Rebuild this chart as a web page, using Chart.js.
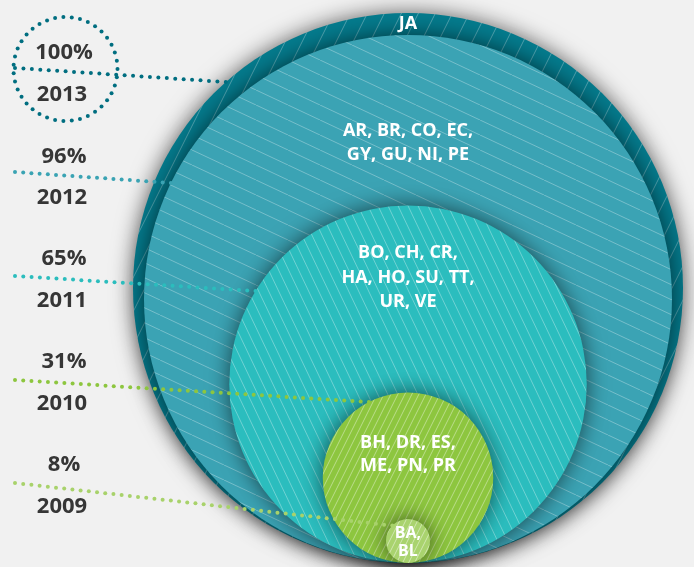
<!DOCTYPE html>
<html>
<head>
<meta charset="utf-8">
<script src="https://cdn.jsdelivr.net/npm/chart.js@4"></script>
<style>
html, body { margin: 0; padding: 0; background: #f1f1f1; }
#wrap { width: 694px; height: 567px; position: relative; }
</style>
</head>
<body>
<div id="wrap"><canvas id="circleChart"></canvas></div>
<script>
const years = ["2013", "2012", "2011", "2010", "2009"];
const coverage = [100, 96, 65, 31, 8];
const countries = [
  ["JA"],
  ["AR, BR, CO, EC,", "GY, GU, NI, PE"],
  ["BO, CH, CR,", "HA, HO, SU, TT,", "UR, VE"],
  ["BH, DR, ES,", "ME, PN, PR"],
  ["BA,", "BL"]
];

// look
const fills = ["#047b8d", "#3ba3b4", "#2bbdbe", "#8dc63f", "#a9d36e"];
const dotColors = ["#006e80", "#3aa3b3", "#2bbdbd", "#8dc63f", "#a8d26b"];

// layout of the annotations (text + leader lines)
const innerTextY = [[24], [131, 155], [253, 278, 302], [443, 466], [533, 551]];
const innerFont = [18, 18, 18, 18, 16];
const pctY = [53, 157, 259, 362, 465];
const yearY = [95, 198, 301, 404, 507];
const leaderStartY = [68, 172, 276, 380, 483];
const leaderEndY = [82, 183, 291, 402, 507];

function stripes(base, w, h, dir, alpha) {
  const c = document.createElement("canvas");
  c.width = w; c.height = h;
  const g = c.getContext("2d");
  g.fillStyle = base;
  g.fillRect(0, 0, w, h);
  g.strokeStyle = "rgba(255,255,255," + alpha + ")";
  g.lineWidth = 1;
  for (let k = -1; k <= 1; k++) {
    g.beginPath();
    if (dir > 0) {
      g.moveTo(k * w, h); g.lineTo(k * w + w, 0);
    } else {
      g.moveTo(k * w, 0); g.lineTo(k * w + w, h);
    }
    g.stroke();
  }
  return g.createPattern(c, "repeat");
}

const patterns = [
  stripes(fills[0], 17, 34, 1, 0.3),
  stripes(fills[1], 32, 15, -1, 0.3),
  stripes(fills[2], 10, 21, -1, 0.32),
  stripes(fills[3], 7, 14, 1, 0.4),
  stripes(fills[4], 6, 12, 1, 0.45)
];

function dotLine(ctx, x0, y0, x1, y1, color) {
  const len = Math.hypot(x1 - x0, y1 - y0);
  const n = Math.round(len / 8.3);
  ctx.fillStyle = color;
  for (let i = 0; i <= n; i++) {
    const t = i / n;
    ctx.beginPath();
    ctx.arc(x0 + (x1 - x0) * t, y0 + (y1 - y0) * t, 2, 0, Math.PI * 2);
    ctx.fill();
  }
}

const shadowPlugin = {
  id: "shadow",
  beforeDatasetsDraw(chart) {
    const c = chart.ctx;
    c.save();
    c.shadowColor = "rgba(0,0,0,0.6)";
    c.shadowBlur = 22;
  },
  afterDatasetsDraw(chart) {
    chart.ctx.restore();
  }
};

const labelPlugin = {
  id: "labels",
  afterDraw(chart) {
    const ctx = chart.ctx;
    const meta = chart.getDatasetMeta(0);
    ctx.save();
    ctx.textAlign = "center";
    ctx.textBaseline = "middle";

    // dotted ring round the first label
    ctx.fillStyle = dotColors[0];
    const n = 39;
    for (let i = 0; i < n; i++) {
      const a = i / n * Math.PI * 2;
      ctx.beginPath();
      ctx.arc(65.5 + Math.cos(a) * 52, 69 + Math.sin(a) * 52, 2, 0, Math.PI * 2);
      ctx.fill();
    }

    meta.data.forEach((pt, i) => {
      const r = pt.options.radius;
      let ey = leaderEndY[i];
      if (Math.abs(ey - pt.y) > r * 0.9) ey = pt.y - r * 0.7;
      const ex = pt.x - Math.sqrt(r * r - (ey - pt.y) * (ey - pt.y));
      dotLine(ctx, 15, leaderStartY[i], ex, ey, dotColors[i]);

      ctx.fillStyle = "#363636";
      ctx.font = "bold 22px 'Open Sans'";
      ctx.fillText(coverage[i] + "%", 64, pctY[i]);
      ctx.fillText(years[i], 62, yearY[i]);

      ctx.fillStyle = "#ffffff";
      ctx.font = "bold " + innerFont[i] + "px 'Open Sans'";
      countries[i].forEach((line, j) => {
        ctx.fillText(line, pt.x, innerTextY[i][j]);
      });
    });
    ctx.restore();
  }
};

new Chart(
  document.getElementById("circleChart"),
  {
    type: "scatter",
    data: {
      labels: years,
      datasets: [{
        label: "Cobertura",
        data: coverage.map(v => ({ x: 0, y: v })),
        showLine: false,
        clip: false,
        pointBackgroundColor: patterns,
        pointBorderWidth: 0,
        pointRadius: function(c) {
          const s = c.chart.scales.y;
          return s.getPixelForValue(0) - s.getPixelForValue(c.parsed.y);
        }
      }]
    },
    options: {
      responsive: true,
      maintainAspectRatio: false,
      animation: false,
      events: [],
      layout: { padding: { top: 13, bottom: 4, left: 122, right: 0 } },
      scales: {
        x: { display: false, min: -1, max: 1 },
        y: { display: false, min: 0, max: 200 }
      },
      plugins: {
        legend: { display: false },
        tooltip: { enabled: false }
      }
    },
    plugins: [shadowPlugin, labelPlugin]
  }
);
</script>
</body>
</html>
